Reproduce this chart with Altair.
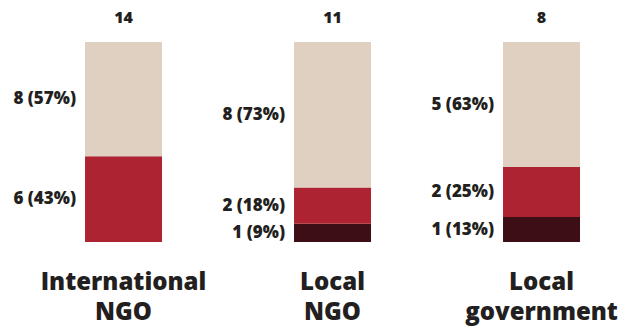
import altair as alt
import pandas as pd
import math

categories = ["International\nNGO", "Local\nNGO", "Local\ngovernment"]
segments = ["dark", "red", "beige"]
counts = {
    "International\nNGO": [0, 6, 8],
    "Local\nNGO": [1, 2, 8],
    "Local\ngovernment": [1, 2, 5],
}
colors = ["#3D0E15", "#AD2331", "#E0D0C1"]

rows = []
for c in categories:
    tot = sum(counts[c])
    for i, s in enumerate(segments):
        v = counts[c][i]
        pct = math.floor(v / tot * 100 + 0.5)
        rows.append({"cat": c, "seg": s, "order": i, "count": v, "total": tot,
                     "label": f"{v} ({pct}%)" if v > 0 else ""})
df = pd.DataFrame(rows)
tot_df = pd.DataFrame({"cat": categories, "total": [sum(counts[c]) for c in categories]})

xscale = alt.Scale(domain=categories, paddingInner=0.6316, paddingOuter=0.3134, align=0.649)
FONT = "Open Sans"
TXT = "#231F20"

base = alt.Chart(df).transform_stack(
    stack="count", groupby=["cat"], as_=["y0", "y1"], offset="normalize",
    sort=[alt.SortField("order", order="ascending")]
).transform_calculate(mid="(datum.y0 + datum.y1) / 2")

yscale = alt.Scale(domain=[0, 1])

bars = base.mark_bar().encode(
    x=alt.X("cat:N", scale=xscale, axis=None),
    y=alt.Y("y0:Q", scale=yscale, axis=None),
    y2="y1:Q",
    color=alt.Color("seg:N", scale=alt.Scale(domain=segments, range=colors), legend=None),
)

labels = base.mark_text(align="right", baseline="middle", dx=-9, font=FONT,
                        fontWeight=800, fontSize=17, color=TXT).encode(
    x=alt.X("cat:N", scale=xscale, bandPosition=0, axis=None),
    y=alt.Y("mid:Q", scale=yscale, axis=None),
    text="label:N",
)

totals = alt.Chart(tot_df).mark_text(baseline="middle", font=FONT, fontWeight=800,
                                     fontSize=16, color=TXT).encode(
    x=alt.X("cat:N", scale=xscale, axis=None),
    y=alt.value(-24),
    text="total:Q",
)

catlabels = alt.Chart(tot_df).mark_text(baseline="alphabetic", font=FONT, fontWeight=800,
                                        fontSize=24, lineBreak="\n", lineHeight=30,
                                        color=TXT).encode(
    x=alt.X("cat:N", scale=xscale, axis=None),
    y=alt.value(248),
    text="cat:N",
)

chart = alt.layer(bars, labels, totals, catlabels).properties(
    width=626, height=200,
    autosize=alt.AutoSizeParams(type="none"),
    padding={"left": 0, "top": 42, "right": 0, "bottom": 94},
    background="white",
).configure_view(stroke=None)

chart.save("out.html", embed_options={"renderer": "svg", "actions": False})
